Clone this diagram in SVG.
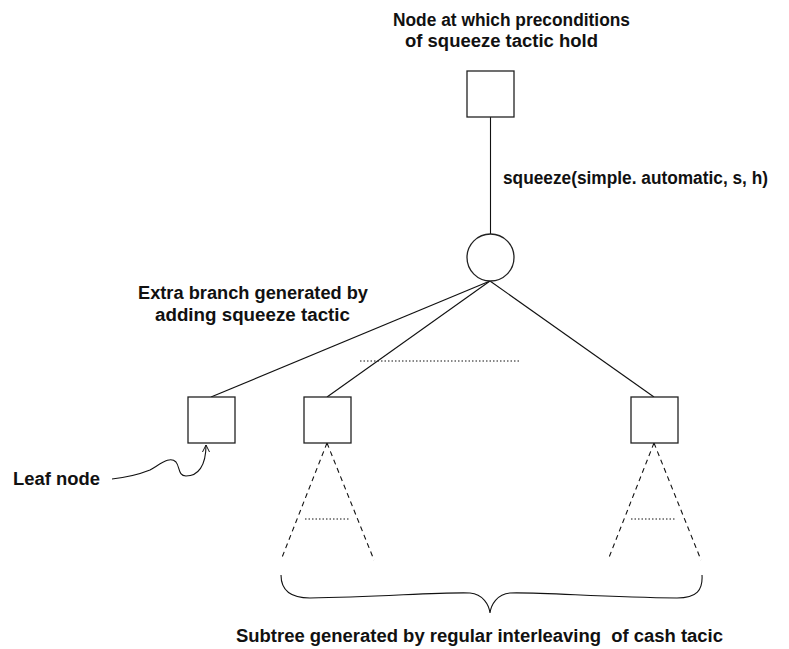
<svg xmlns="http://www.w3.org/2000/svg" width="789" height="649" viewBox="0 0 789 649">
<defs>
<style>
.t{font-family:"Liberation Sans",Arial,sans-serif;font-weight:bold;font-size:18px;fill:#111}
.box{fill:#fff;stroke:#222;stroke-width:1.3}
.ln{stroke:#111;stroke-width:1.1;fill:none}
.dash{stroke:#111;stroke-width:1.1;fill:none;stroke-dasharray:5,4}
.dot{stroke:#111;stroke-width:1;fill:none;stroke-dasharray:1.5,2}
</style>
<marker id="arr" markerWidth="10" markerHeight="10" refX="8" refY="5" orient="auto" markerUnits="userSpaceOnUse">
<path d="M1,1.5 L8,5 L1,8.5" fill="none" stroke="#111" stroke-width="1"/>
</marker>
</defs>
<rect width="789" height="649" fill="#fff"/>
<g id="connectors">
<line class="ln" x1="490.5" y1="117" x2="490.5" y2="234"/>
<line class="ln" x1="490" y1="281" x2="211" y2="397"/>
<line class="ln" x1="490" y1="281" x2="327" y2="397"/>
<line class="ln" x1="490" y1="281" x2="654" y2="397"/>
<line class="dot" x1="360" y1="361" x2="521" y2="361"/>
<path class="dash" d="M327,443 L281,560 M327,443 L374,560"/>
<line class="dot" x1="305" y1="519" x2="350" y2="519"/>
<path class="dash" d="M654,443 L608,560 M654,443 L701,560"/>
<line class="dot" x1="631" y1="519" x2="676" y2="519"/>
<path class="ln" d="M112,479 C130,477 140,474 150,470 C162,463 170,456 176,462 C180,467 178,476 186,476 C198,476 206,466 206,445" marker-end="url(#arr)"/>
<path class="ln" d="M281,575 C281,590 290,598 310,598 C380,597 440,592 470,593 C483,594 489,605 490,613 C491,605 497,594 510,593 C540,592 600,597 677,598 C697,598 703,590 702,575"/>
</g>
<g id="root"><rect class="box" x="467" y="71" width="47" height="46"/></g>
<g id="chance"><circle cx="490.5" cy="257.5" r="23.5" fill="#fff" stroke="#222" stroke-width="1.3"/></g>
<g id="leaf"><rect class="box" x="188" y="397" width="47" height="46"/></g>
<g id="child2"><rect class="box" x="304" y="397" width="47" height="46"/></g>
<g id="childN"><rect class="box" x="631" y="397" width="47" height="46"/></g>
<g id="labels">
<text class="t" x="393" y="26" textLength="237" lengthAdjust="spacingAndGlyphs">Node at which preconditions</text>
<text class="t" x="405" y="47" textLength="193" lengthAdjust="spacingAndGlyphs">of squeeze tactic hold</text>
<text class="t" x="503" y="184" textLength="265" lengthAdjust="spacingAndGlyphs">squeeze(simple. automatic, s, h)</text>
<text class="t" x="138" y="299" textLength="230" lengthAdjust="spacingAndGlyphs">Extra branch generated by</text>
<text class="t" x="155" y="320.5" textLength="195" lengthAdjust="spacingAndGlyphs">adding squeeze tactic</text>
<text class="t" x="13" y="485" textLength="87" lengthAdjust="spacingAndGlyphs">Leaf node</text>
<text class="t" x="236" y="642" textLength="487" lengthAdjust="spacingAndGlyphs" xml:space="preserve">Subtree generated by regular interleaving  of cash tacic</text>
</g>
</svg>
